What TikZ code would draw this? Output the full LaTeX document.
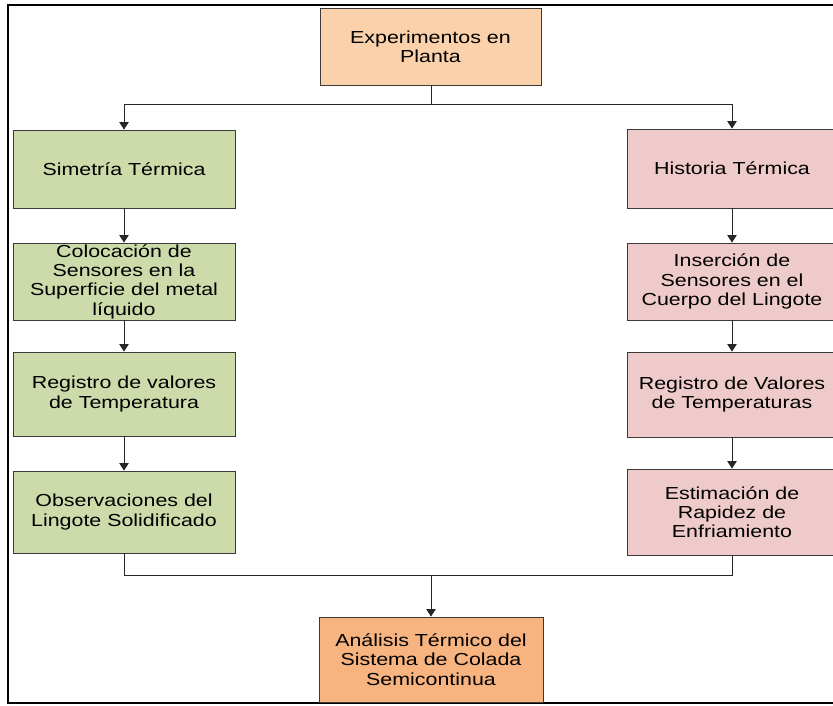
\documentclass[tikz,border=0pt]{standalone}
\usepackage{fontspec}
\setmainfont{Liberation Sans}[FakeStretch=1.23]
\usetikzlibrary{arrows.meta}
\definecolor{boxgreen}{HTML}{CDDBAA}
\definecolor{boxpink}{HTML}{EECBCA}
\definecolor{boxpeach}{HTML}{FAD1AA}
\definecolor{boxorange}{HTML}{F7B480}
\definecolor{edgegray}{HTML}{3A3A3A}
\begin{document}
\begin{tikzpicture}[x=1pt,y=-1pt,
  box/.style={draw=edgegray,line width=0.9pt,rectangle,inner sep=0pt,align=center,
    font=\fontsize{17.4}{19.3}\selectfont,text=black},
  lbox/.style={box,fill=boxgreen,minimum width=222pt},
  rbox/.style={box,fill=boxpink,minimum width=210pt},
  conn/.style={draw=black!85,line width=0.9pt},
  arr/.style={conn,-{Triangle[width=9.5pt,length=7.5pt]}}]
\useasboundingbox (0,0) rectangle (833,705);
\draw[line width=2.2pt] (8,5) rectangle (845,703);

\node[box,fill=boxpeach,minimum width=221pt,minimum height=77pt] (top) at (430.5,46.5) {Experimentos en\\Planta};

\node[lbox,minimum height=78pt] (sim) at (124,169) {Simetría Térmica};
\node[lbox,minimum height=77pt] (col) at (124,281.5) {Colocación de\\Sensores en la\\Superficie del metal\\líquido};
\node[lbox,minimum height=84pt] (regl) at (124,394) {Registro de valores\\de Temperatura};
\node[lbox,minimum height=82pt] (obs) at (124,512) {Observaciones del\\Lingote Solidificado};

\node[rbox,minimum height=79pt] (his) at (732,168.5) {Historia Térmica};
\node[rbox,minimum height=77pt] (ins) at (732,281.5) {Inserción de\\Sensores en el\\Cuerpo del Lingote};
\node[rbox,minimum height=85pt] (regr) at (732,394.5) {Registro de Valores\\de Temperaturas};
\node[rbox,minimum height=86pt] (est) at (732,512) {Estimación de\\Rapidez de\\Enfriamiento};

\node[box,fill=boxorange,minimum width=224pt,minimum height=85pt] (bot) at (431,659.5) {Análisis Térmico del\\Sistema de Colada\\Semicontinua};

\coordinate (jt) at (431,104);
\coordinate (jb) at (431,575);

\draw[conn] (top.south -| jt) -- (jt);
\draw[arr] (jt) -| (sim.north);
\draw[arr] (jt) -| (his.north);

\draw[arr] (sim) -- (col);
\draw[arr] (col) -- (regl);
\draw[arr] (regl) -- (obs);

\draw[arr] (his) -- (ins);
\draw[arr] (ins) -- (regr);
\draw[arr] (regr) -- (est);

\draw[conn] (obs.south) |- (jb);
\draw[conn] (est.south) |- (jb);
\draw[arr] (jb) -- (bot.north -| jb);
\end{tikzpicture}
\end{document}
